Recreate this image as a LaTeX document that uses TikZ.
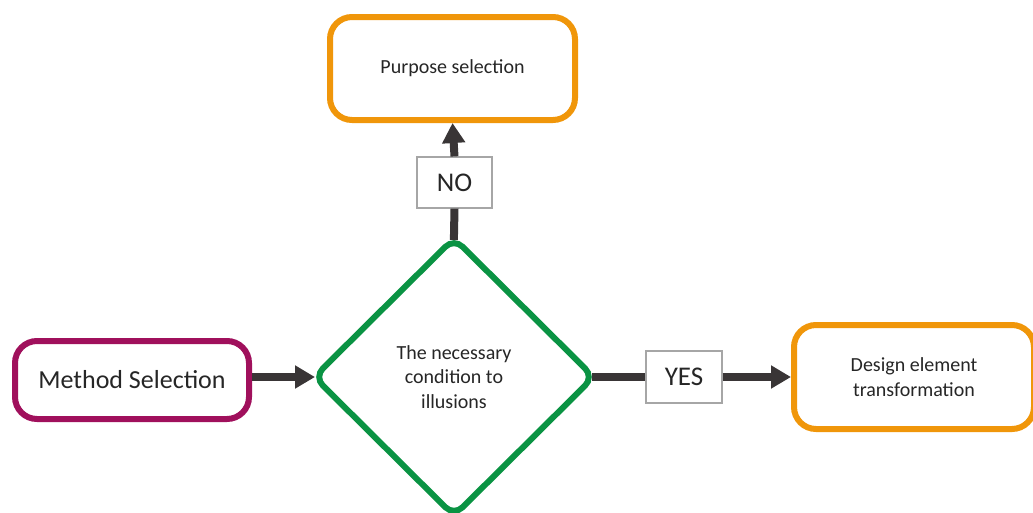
\documentclass[tikz,border=0pt]{standalone}
\usepackage{fontspec}
\setmainfont{Carlito}
\usetikzlibrary{shapes.geometric}
\usetikzlibrary{arrows.meta}
\definecolor{plum}{HTML}{A0105C}
\definecolor{amber}{HTML}{F0960A}
\definecolor{leaf}{HTML}{0A9343}
\definecolor{ink}{HTML}{393536}
\definecolor{txt}{HTML}{262626}

\begin{document}
\begin{tikzpicture}[x=1pt,y=-1pt,
  box/.style={draw, line width=6pt, rounded corners=22pt, fill=white, text=txt, align=center, inner sep=0pt},
  cond/.style={draw=leaf, diamond, aspect=1, line width=6pt, rounded corners=12pt, fill=white, inner sep=0pt, minimum width=282pt, minimum height=280pt, text=txt, align=center},
  tag/.style={draw=gray!70, line width=1.2pt, fill=white, text=txt, inner sep=0pt, font=\fontsize{27}{30}\selectfont},
  flow/.style={draw=ink, line width=8pt},
  head/.style={-{Triangle[length=20pt,width=22pt]}}]
\clip (0,0) rectangle (1033,512);
\node[box, draw=plum, minimum width=234pt, minimum height=78pt, font=\fontsize{26}{30}\selectfont] (meth) at (132, 380) {Method Selection};
\node[cond, font=\fontsize{20}{24.5}\selectfont] (cond) at (454, 377) {The necessary\\condition to\\illusions};
\node[box, draw=amber, minimum width=245pt, minimum height=103pt, font=\fontsize{20}{24}\selectfont] (purp) at (452.5, 68.5) {Purpose selection};
\node[box, draw=amber, minimum width=240pt, minimum height=104pt, font=\fontsize{20}{24.5}\selectfont] (dsgn) at (914, 377) {Design element\\transformation};
\node[tag, minimum width=75pt, minimum height=51pt] (no) at (454.5, 182.5) {NO};
\node[tag, minimum width=76pt, minimum height=52pt] (yes) at (684, 377) {YES};

% connectors
\draw[flow, head, shorten >=-5pt] (meth.east |- cond.west) -- (cond.west);
\draw[flow, shorten <=-6pt] (cond.north) -- (no.south);
\draw[flow, head] (no.north) -- (purp.south);
\draw[flow, shorten <=-6pt] (cond.east) -- (yes.west);
\draw[flow, head] (yes.east) -- (dsgn.west);
\end{tikzpicture}
\end{document}
